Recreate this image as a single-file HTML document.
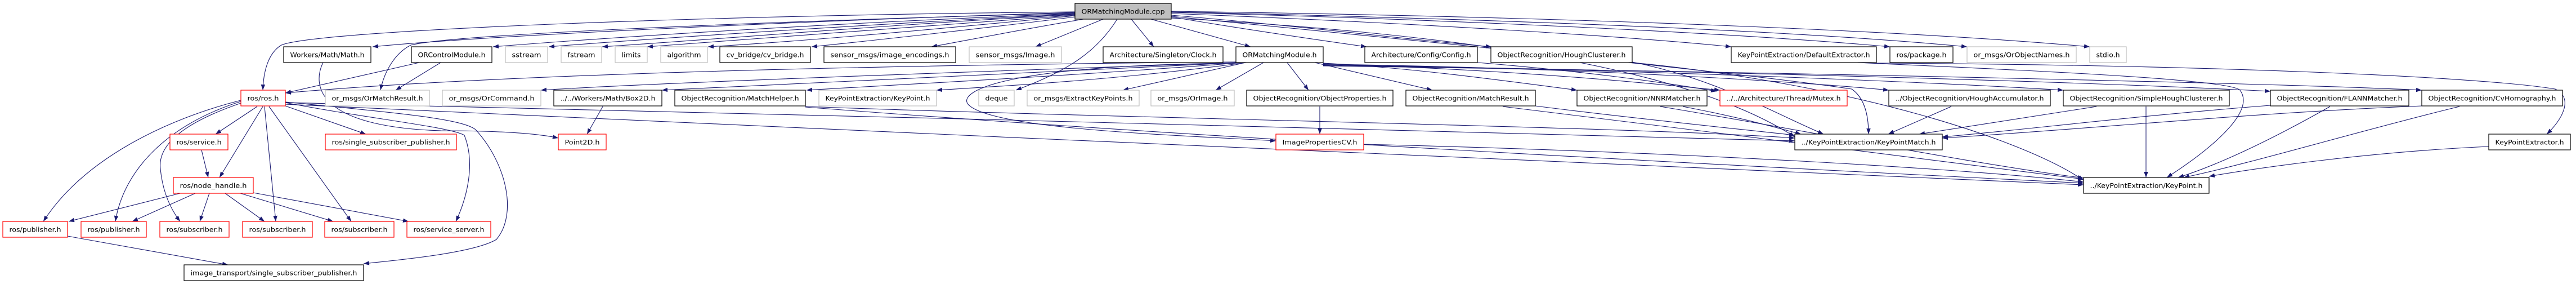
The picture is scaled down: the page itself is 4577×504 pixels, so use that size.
<!DOCTYPE html>
<html><head><meta charset="utf-8"><style>
html,body{margin:0;padding:0;background:#fff;}
svg{display:block;}
text{font-family:"DejaVu Sans","Liberation Sans",sans-serif;font-size:11.5px;fill:#000;}
.e{fill:none;stroke:#191970;stroke-width:1.1;marker-end:url(#a);}
.k{fill:#fff;stroke:#000;stroke-width:1.2;}
.g{fill:#fff;stroke:#bfbfbf;stroke-width:1.2;}
.r{fill:#fff;stroke:#ff0000;stroke-width:1.2;}
.t{fill:#bfbfbf;stroke:#000;stroke-width:1.2;}
</style></head><body>
<svg width="4577" height="504" viewBox="0 0 4577 504" xmlns="http://www.w3.org/2000/svg">
<defs><marker id="a" markerUnits="userSpaceOnUse" markerWidth="11" markerHeight="8" refX="10" refY="3.75" orient="auto"><path d="M0,0 L10,3.75 L0,7.5 z" fill="#191970"/></marker></defs>
<g>
<!-- title edges -->
<path class="e" d="M1910,22 C1500,35 900,60 662,83"/>
<path class="e" d="M1910,24 C1500,40 1100,65 876,83"/>
<path class="e" d="M1910,25 C1600,40 1200,65 975,83"/>
<path class="e" d="M1910,26 C1600,42 1300,68 1070,83"/>
<path class="e" d="M1910,27 C1650,45 1350,70 1150,83"/>
<path class="e" d="M1910,28 C1700,48 1450,72 1258,83"/>
<path class="e" d="M1910,30 C1750,50 1550,72 1442,83"/>
<path class="e" d="M1925,34 C1800,55 1700,75 1655,83"/>
<path class="e" d="M1960,34 L1840,83"/>
<path class="e" d="M2010,34 L2050,83"/>
<path class="e" d="M2045,34 L2222,83"/>
<path class="e" d="M2081,30 C2200,50 2350,72 2428,83"/>
<path class="e" d="M2081,27 C2300,45 2500,70 2650,83"/>
<path class="e" d="M2081,24 C2500,40 2900,65 3076,83"/>
<path class="e" d="M2081,22 C2600,35 3100,60 3358,83"/>
<path class="e" d="M2081,21 C2700,35 3200,55 3495,83"/>
<path class="e" d="M2081,20 C2800,30 3400,55 3713,83"/>
<path class="e" d="M1910,21 C1200,28 560,55 500,80 C475,95 468,130 467,160"/>
<path class="e" d="M1910,23 C1300,40 800,62 730,80 C700,95 682,130 676,160"/>
<path class="e" d="M1985,34 C1950,90 1900,125 1805,160"/>
<path class="e" d="M2081,29 C2600,80 3100,130 3290,158 C3315,175 3320,210 3320,238"/>
<path class="e" d="M2081,32 C2600,60 3000,120 3189,243"/>
<path class="e" d="M3334,112 C3900,115 4400,135 4540,158 C4575,175 4550,215 4525,238"/>
<path class="e" d="M3300,111 C3600,125 3960,140 3980,160 C4010,200 3920,270 3850,315"/>
<!-- ORMatchingModule.h edges -->
<path class="e" d="M2196,110 C1600,115 900,130 507,165"/>
<path class="e" d="M2200,111 C1800,125 1200,145 961,160"/>
<path class="e" d="M2205,111 C1800,130 1400,148 1176,160"/>
<path class="e" d="M2210,111 C1900,135 1600,150 1433,160"/>
<path class="e" d="M2215,111 C2000,140 1800,152 1664,160"/>
<path class="e" d="M2213,111 L1995,160"/>
<path class="e" d="M2245,111 L2160,160"/>
<path class="e" d="M2287,111 L2325,160"/>
<path class="e" d="M2336,111 L2545,160"/>
<path class="e" d="M2351,112 C2500,120 2650,140 2802,160"/>
<path class="e" d="M2351,113 C2700,125 2900,145 3056,160"/>
<path class="e" d="M2625,111 C2800,125 2950,145 3050,162"/>
<path class="e" d="M2351,114 C2800,120 3200,145 3356,160"/>
<path class="e" d="M2351,115 C3000,125 3500,150 3666,160"/>
<path class="e" d="M2351,116 C3200,128 3800,150 4034,162"/>
<path class="e" d="M2351,117 C3300,130 4100,150 4303,160"/>
<path class="e" d="M2196,112 C1800,115 1700,160 1720,185 C1760,230 2100,240 2267,250"/>
<!-- HoughClusterer etc -->
<path class="e" d="M2900,110 C3050,140 3150,200 3240,238"/>
<path class="e" d="M2900,111 C3300,150 3600,250 3702,320"/>
<path class="e" d="M1431,189 C2000,210 2900,225 3189,245"/>
<path class="e" d="M1431,190 C2200,250 3200,300 3702,325"/>
<path class="e" d="M574,111 C555,150 560,225 784,232 C900,232 960,238 992,245"/>
<path class="e" d="M507,182 C1200,200 2600,230 3189,250"/>
<path class="e" d="M507,185 C1500,230 3000,300 3702,328"/>
<path class="e" d="M2423,256 C3000,270 3500,300 3702,323"/>
<path class="e" d="M2728,188 C2900,210 3100,230 3189,240"/>
<path class="e" d="M2670,189 C3000,230 3500,290 3702,318"/>
<path class="e" d="M2990,189 C3100,210 3150,225 3200,238"/>
<path class="e" d="M2950,189 C3200,230 3500,290 3702,316"/>
<path class="e" d="M3467,189 L3355,238"/>
<path class="e" d="M3725,189 L3410,238"/>
<path class="e" d="M3813,189 L3813,315"/>
<path class="e" d="M4034,187 C3800,205 3600,230 3451,243"/>
<path class="e" d="M4140,189 C4050,240 3950,290 3870,315"/>
<path class="e" d="M4303,188 C4000,200 3700,230 3451,245"/>
<path class="e" d="M4370,189 C4200,230 4000,290 3880,315"/>
<path class="e" d="M4422,260 C4200,270 4000,300 3925,313"/>
<path class="e" d="M1071,189 L1043,238"/>
<path class="e" d="M2345,189 L2345,238"/>
<!-- ros side -->
<path class="e" d="M457,189 L383,238"/>
<path class="e" d="M467,189 L390,315"/>
<path class="e" d="M428,178 C300,210 150,280 77,393"/>
<path class="e" d="M428,180 C300,220 220,300 205,393"/>
<path class="e" d="M428,183 C320,220 280,260 285,300 C290,350 310,380 320,393"/>
<path class="e" d="M470,189 L490,393"/>
<path class="e" d="M478,189 L624,393"/>
<path class="e" d="M507,188 L650,238"/>
<path class="e" d="M507,182 C650,210 800,225 825,240 C845,290 830,350 810,393"/>
<path class="e" d="M507,181 C700,200 820,210 845,230 C900,290 920,380 882,425 C840,450 700,462 646,468"/>
<path class="e" d="M358,266 L370,315"/>
<path class="e" d="M320,343 L122,393"/>
<path class="e" d="M347,343 L235,393"/>
<path class="e" d="M372,343 L355,393"/>
<path class="e" d="M400,343 L470,393"/>
<path class="e" d="M427,343 L592,393"/>
<path class="e" d="M450,342 L726,393"/>
<path class="e" d="M120,419 L405,470"/>
<path class="e" d="M745,111 L507,165"/>
<path class="e" d="M783,111 L703,160"/>
</g>
<g>
<rect class="t" x="1910" y="6" width="171" height="28"/><text x="1995.5" y="24.5" text-anchor="middle" textLength="148" lengthAdjust="spacingAndGlyphs">ORMatchingModule.cpp</text>
</g>
<g id="nodes"></g>
<g>
<!-- row1 y=83 -->
<rect class="k" x="504" y="83" width="155" height="28"/><text x="581.5" y="101.5" text-anchor="middle" textLength="132" lengthAdjust="spacingAndGlyphs">Workers/Math/Math.h</text>
<rect class="k" x="731" y="83" width="143" height="28"/><text x="802.5" y="101.5" text-anchor="middle" textLength="120" lengthAdjust="spacingAndGlyphs">ORControlModule.h</text>
<rect class="g" x="898" y="83" width="75" height="28"/><text x="935.5" y="101.5" text-anchor="middle" textLength="52" lengthAdjust="spacingAndGlyphs">sstream</text>
<rect class="g" x="997" y="83" width="72" height="28"/><text x="1033" y="101.5" text-anchor="middle" textLength="49" lengthAdjust="spacingAndGlyphs">fstream</text>
<rect class="g" x="1093" y="83" width="57" height="28"/><text x="1121.5" y="101.5" text-anchor="middle" textLength="34" lengthAdjust="spacingAndGlyphs">limits</text>
<rect class="g" x="1174" y="83" width="83" height="28"/><text x="1215.5" y="101.5" text-anchor="middle" textLength="60" lengthAdjust="spacingAndGlyphs">algorithm</text>
<rect class="k" x="1279" y="83" width="161" height="28"/><text x="1359.5" y="101.5" text-anchor="middle" textLength="138" lengthAdjust="spacingAndGlyphs">cv_bridge/cv_bridge.h</text>
<rect class="k" x="1464" y="83" width="234" height="28"/><text x="1581" y="101.5" text-anchor="middle" textLength="211" lengthAdjust="spacingAndGlyphs">sensor_msgs/image_encodings.h</text>
<rect class="g" x="1722" y="83" width="164" height="28"/><text x="1804" y="101.5" text-anchor="middle" textLength="141" lengthAdjust="spacingAndGlyphs">sensor_msgs/Image.h</text>
<rect class="k" x="1960" y="83" width="213" height="28"/><text x="2066.5" y="101.5" text-anchor="middle" textLength="190" lengthAdjust="spacingAndGlyphs">Architecture/Singleton/Clock.h</text>
<rect class="k" x="2196" y="83" width="155" height="28"/><text x="2273.5" y="101.5" text-anchor="middle" textLength="132" lengthAdjust="spacingAndGlyphs">ORMatchingModule.h</text>
<rect class="k" x="2425" y="83" width="200" height="28"/><text x="2525" y="101.5" text-anchor="middle" textLength="177" lengthAdjust="spacingAndGlyphs">Architecture/Config/Config.h</text>
<rect class="k" x="2649" y="83" width="251" height="28"/><text x="2774.5" y="101.5" text-anchor="middle" textLength="228" lengthAdjust="spacingAndGlyphs">ObjectRecognition/HoughClusterer.h</text>
<rect class="k" x="3076" y="83" width="258" height="28"/><text x="3205" y="101.5" text-anchor="middle" textLength="235" lengthAdjust="spacingAndGlyphs">KeyPointExtraction/DefaultExtractor.h</text>
<rect class="k" x="3358" y="83" width="112" height="28"/><text x="3414" y="101.5" text-anchor="middle" textLength="89" lengthAdjust="spacingAndGlyphs">ros/package.h</text>
<rect class="g" x="3495" y="83" width="194" height="28"/><text x="3592" y="101.5" text-anchor="middle" textLength="171" lengthAdjust="spacingAndGlyphs">or_msgs/OrObjectNames.h</text>
<rect class="g" x="3713" y="83" width="65" height="28"/><text x="3745.5" y="101.5" text-anchor="middle" textLength="42" lengthAdjust="spacingAndGlyphs">stdio.h</text>
<!-- row2 y=160 -->
<rect class="r" x="428" y="160" width="79" height="28"/><text x="467.5" y="178.5" text-anchor="middle" textLength="56" lengthAdjust="spacingAndGlyphs">ros/ros.h</text>
<rect class="g" x="578" y="160" width="185" height="28"/><text x="670.5" y="178.5" text-anchor="middle" textLength="162" lengthAdjust="spacingAndGlyphs">or_msgs/OrMatchResult.h</text>
<rect class="g" x="786" y="160" width="175" height="28"/><text x="873.5" y="178.5" text-anchor="middle" textLength="152" lengthAdjust="spacingAndGlyphs">or_msgs/OrCommand.h</text>
<rect class="k" x="984" y="160" width="192" height="28"/><text x="1080" y="178.5" text-anchor="middle" textLength="169" lengthAdjust="spacingAndGlyphs">../../Workers/Math/Box2D.h</text>
<rect class="k" x="1199" y="160" width="232" height="28"/><text x="1315" y="178.5" text-anchor="middle" textLength="209" lengthAdjust="spacingAndGlyphs">ObjectRecognition/MatchHelper.h</text>
<rect class="g" x="1455" y="160" width="209" height="28"/><text x="1559.5" y="178.5" text-anchor="middle" textLength="186" lengthAdjust="spacingAndGlyphs">KeyPointExtraction/KeyPoint.h</text>
<rect class="g" x="1739" y="160" width="63" height="28"/><text x="1770.5" y="178.5" text-anchor="middle" textLength="40" lengthAdjust="spacingAndGlyphs">deque</text>
<rect class="g" x="1825" y="160" width="199" height="28"/><text x="1924.5" y="178.5" text-anchor="middle" textLength="176" lengthAdjust="spacingAndGlyphs">or_msgs/ExtractKeyPoints.h</text>
<rect class="g" x="2045" y="160" width="148" height="28"/><text x="2119" y="178.5" text-anchor="middle" textLength="125" lengthAdjust="spacingAndGlyphs">or_msgs/OrImage.h</text>
<rect class="k" x="2215" y="160" width="260" height="28"/><text x="2345" y="178.5" text-anchor="middle" textLength="237" lengthAdjust="spacingAndGlyphs">ObjectRecognition/ObjectProperties.h</text>
<rect class="k" x="2498" y="160" width="230" height="28"/><text x="2613" y="178.5" text-anchor="middle" textLength="207" lengthAdjust="spacingAndGlyphs">ObjectRecognition/MatchResult.h</text>
<rect class="k" x="2802" y="160" width="231" height="28"/><text x="2917.5" y="178.5" text-anchor="middle" textLength="208" lengthAdjust="spacingAndGlyphs">ObjectRecognition/NNRMatcher.h</text>
<rect class="r" x="3056" y="160" width="226" height="28"/><text x="3169" y="178.5" text-anchor="middle" textLength="203" lengthAdjust="spacingAndGlyphs">../../Architecture/Thread/Mutex.h</text>
<rect class="k" x="3356" y="160" width="287" height="28"/><text x="3499.5" y="178.5" text-anchor="middle" textLength="264" lengthAdjust="spacingAndGlyphs">../ObjectRecognition/HoughAccumulator.h</text>
<rect class="k" x="3666" y="160" width="295" height="28"/><text x="3813.5" y="178.5" text-anchor="middle" textLength="272" lengthAdjust="spacingAndGlyphs">ObjectRecognition/SimpleHoughClusterer.h</text>
<rect class="k" x="4034" y="160" width="246" height="28"/><text x="4157" y="178.5" text-anchor="middle" textLength="223" lengthAdjust="spacingAndGlyphs">ObjectRecognition/FLANNMatcher.h</text>
<rect class="k" x="4303" y="160" width="250" height="28"/><text x="4428" y="178.5" text-anchor="middle" textLength="227" lengthAdjust="spacingAndGlyphs">ObjectRecognition/CvHomography.h</text>
<!-- row3 y=238 -->
<rect class="r" x="302" y="238" width="103" height="28"/><text x="353.5" y="256.5" text-anchor="middle" textLength="80" lengthAdjust="spacingAndGlyphs">ros/service.h</text>
<rect class="r" x="578" y="238" width="233" height="28"/><text x="694.5" y="256.5" text-anchor="middle" textLength="210" lengthAdjust="spacingAndGlyphs">ros/single_subscriber_publisher.h</text>
<rect class="r" x="992" y="238" width="85" height="28"/><text x="1034.5" y="256.5" text-anchor="middle" textLength="62" lengthAdjust="spacingAndGlyphs">Point2D.h</text>
<rect class="r" x="2267" y="238" width="156" height="28"/><text x="2345" y="256.5" text-anchor="middle" textLength="133" lengthAdjust="spacingAndGlyphs">ImagePropertiesCV.h</text>
<rect class="k" x="3189" y="238" width="262" height="28"/><text x="3320" y="256.5" text-anchor="middle" textLength="239" lengthAdjust="spacingAndGlyphs">../KeyPointExtraction/KeyPointMatch.h</text>
<rect class="k" x="4422" y="238" width="145" height="28"/><text x="4494.5" y="256.5" text-anchor="middle" textLength="122" lengthAdjust="spacingAndGlyphs">KeyPointExtractor.h</text>
<!-- row4 y=315 -->
<rect class="r" x="308" y="315" width="142" height="28"/><text x="379" y="333.5" text-anchor="middle" textLength="119" lengthAdjust="spacingAndGlyphs">ros/node_handle.h</text>
<rect class="k" x="3702" y="315" width="223" height="28"/><text x="3813.5" y="333.5" text-anchor="middle" textLength="200" lengthAdjust="spacingAndGlyphs">../KeyPointExtraction/KeyPoint.h</text>
<!-- row5 y=393 -->
<rect class="r" x="5" y="393" width="115" height="28"/><text x="62.5" y="411.5" text-anchor="middle" textLength="92" lengthAdjust="spacingAndGlyphs">ros/publisher.h</text>
<rect class="r" x="144" y="393" width="116" height="28"/><text x="202" y="411.5" text-anchor="middle" textLength="93" lengthAdjust="spacingAndGlyphs">ros/publisher.h</text>
<rect class="r" x="284" y="393" width="123" height="28"/><text x="345.5" y="411.5" text-anchor="middle" textLength="100" lengthAdjust="spacingAndGlyphs">ros/subscriber.h</text>
<rect class="r" x="431" y="393" width="124" height="28"/><text x="493" y="411.5" text-anchor="middle" textLength="101" lengthAdjust="spacingAndGlyphs">ros/subscriber.h</text>
<rect class="r" x="577" y="393" width="123" height="28"/><text x="638.5" y="411.5" text-anchor="middle" textLength="100" lengthAdjust="spacingAndGlyphs">ros/subscriber.h</text>
<rect class="r" x="723" y="393" width="149" height="28"/><text x="797.5" y="411.5" text-anchor="middle" textLength="126" lengthAdjust="spacingAndGlyphs">ros/service_server.h</text>
<!-- row6 y=470 -->
<rect class="k" x="327" y="470" width="319" height="28"/><text x="486.5" y="488.5" text-anchor="middle" textLength="296" lengthAdjust="spacingAndGlyphs">image_transport/single_subscriber_publisher.h</text>
</g>
</svg>
</body></html>
